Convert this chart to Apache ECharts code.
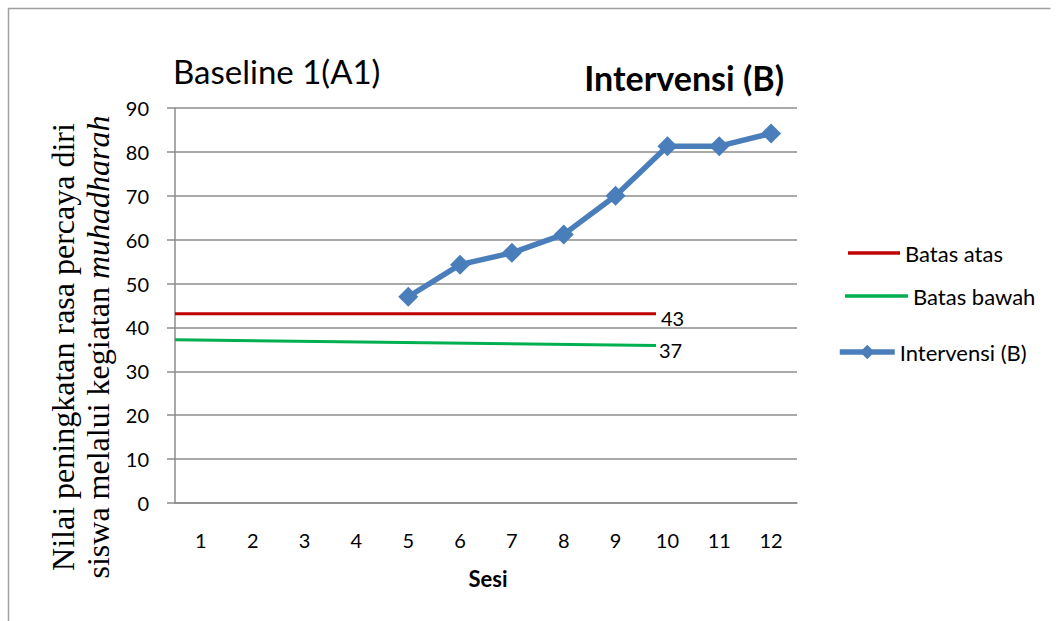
<!DOCTYPE html>
<html>
<head>
<meta charset="utf-8">
<script src="https://cdn.jsdelivr.net/npm/echarts@6/dist/echarts.min.js"></script>
<style>
  html, body { margin: 0; padding: 0; background: #fff; }
  #chart { width: 1059px; height: 621px; }
</style>
</head>
<body>
<div id="chart"></div>
<script>
// Sessions (x categories)
const sessions = ['1', '2', '3', '4', '5', '6', '7', '8', '9', '10', '11', '12'];
// Intervention scores per session (no scores before session 5)
const intervensi = [null, null, null, null, 47, 54.3, 57, 61.2, 70, 81.3, 81.3, 84.2];
// Baseline limit lines: start and end position along the session axis
const limitSpan = [0.5, 9.78];
const batasAtas = [43.1, 43.1];
const batasBawah = [37.2, 35.9];
// Value axis
const yMin = 0, yMax = 90, yStep = 10;

const gray = '#8c8c8c';
const sans = 'Lato, "Open Sans", sans-serif';
const serif = 'Liberation Serif';

const meanLabel = arr => String(Math.round(arr.reduce((a, b) => a + b, 0) / arr.length));
const pairs = ys => limitSpan.map((x, i) => [x, ys[i]]);

const chart = echarts.init(document.getElementById('chart'), null, { renderer: 'svg' });

const legendText = { color: '#000', fontFamily: sans, fontSize: 22 };

chart.setOption({
  animation: false,
  backgroundColor: '#fff',
  grid: { left: 175, right: 262, top: 108, bottom: 118 },
  xAxis: [
    {
      type: 'category',
      data: sessions,
      boundaryGap: true,
      axisLine: { lineStyle: { color: gray, width: 1.5 } },
      axisTick: { show: false },
      axisLabel: { color: '#000', fontFamily: sans, fontSize: 20, margin: 27 }
    },
    { type: 'value', min: 0.5, max: 12.5, show: false }
  ],
  yAxis: {
    type: 'value',
    min: yMin, max: yMax, interval: yStep,
    axisLine: { show: true, lineStyle: { color: gray, width: 1.5 } },
    axisTick: { show: true, length: 8, lineStyle: { color: gray, width: 1.5 } },
    splitLine: { lineStyle: { color: gray, width: 1.5 } },
    axisLabel: { color: '#000', fontFamily: sans, fontSize: 20, margin: 26 }
  },
  legend: [
    {
      data: [{ name: 'Batas atas', icon: 'rect' }], left: 848, top: 242, padding: 0,
      itemWidth: 52, itemHeight: 3.5, textStyle: legendText
    },
    {
      data: [{ name: 'Batas bawah', icon: 'rect' }], left: 845, top: 285, padding: 0,
      itemWidth: 63, itemHeight: 3.5, textStyle: legendText
    },
    {
      data: ['Intervensi (B)'], left: 837, top: 341, padding: 0,
      itemWidth: 55, itemHeight: 18,
      lineStyle: { width: 5.5 },
      textStyle: legendText
    }
  ],
  series: [
    {
      name: 'Batas atas', type: 'line', xAxisIndex: 1,
      data: pairs(batasAtas),
      symbol: 'none',
      lineStyle: { color: '#C00000', width: 3 },
      itemStyle: { color: '#C00000' },
      endLabel: {
        show: true, formatter: () => meanLabel(batasAtas),
        color: '#000', fontFamily: sans, fontSize: 20, distance: 5, offset: [0, 4]
      }
    },
    {
      name: 'Batas bawah', type: 'line', xAxisIndex: 1,
      data: pairs(batasBawah),
      symbol: 'none',
      lineStyle: { color: '#00B050', width: 3 },
      itemStyle: { color: '#00B050' },
      endLabel: {
        show: true, formatter: () => meanLabel(batasBawah),
        color: '#000', fontFamily: sans, fontSize: 20, distance: 3, offset: [0, 5]
      }
    },
    {
      name: 'Intervensi (B)', type: 'line', xAxisIndex: 0,
      data: intervensi,
      symbol: 'diamond', symbolSize: 20,
      lineStyle: { color: '#4A7EBB', width: 5.5 },
      itemStyle: { color: '#4A7EBB' }
    }
  ],
  graphic: [
    {
      type: 'polyline', silent: true,
      shape: { points: [[8.5, 640], [8.5, 8.5], [1050.5, 8.5]] },
      style: { stroke: '#a0a0a0', lineWidth: 1.5, fill: null }
    },
    {
      type: 'text', left: 173, top: 54,
      style: { text: 'Baseline 1(A1)', fill: '#000', font: '33px ' + sans }
    },
    {
      type: 'text', right: 1059 - 784, top: 60,
      style: { text: 'Intervensi (B)', fill: '#000', font: 'bold 34px ' + sans }
    },
    {
      type: 'text', x: 488, y: 578,
      style: { text: 'Sesi', fill: '#000', font: 'bold 22px ' + sans, align: 'center', verticalAlign: 'middle' }
    },
    {
      type: 'text', x: 80, y: 347, rotation: Math.PI / 2,
      style: {
        text: '{a|Nilai peningkatan rasa percaya diri}\n{a|siswa melalui kegiatan }{i|muhadharah}',
        align: 'center', verticalAlign: 'middle', fill: '#000',
        fontFamily: serif, fontSize: 32,
        rich: {
          a: { fontFamily: serif, fontSize: 32, lineHeight: 35, fill: '#000' },
          i: { fontFamily: serif, fontSize: 32, lineHeight: 35, fontStyle: 'italic', fill: '#000' }
        }
      }
    }
  ]
});
</script>
</body>
</html>
